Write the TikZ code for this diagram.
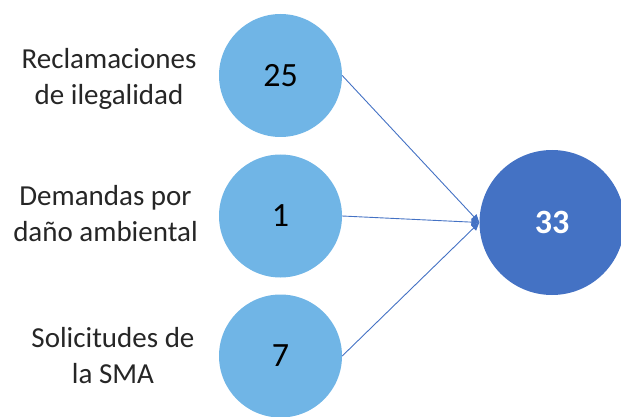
\documentclass[tikz,border=0pt]{standalone}
\usepackage{fontspec}
\setmainfont{Carlito}
\usetikzlibrary{arrows.meta}
\definecolor{lightblue}{RGB}{112,181,230}
\definecolor{darkblue}{RGB}{68,114,196}
\begin{document}
\begin{tikzpicture}[x=1pt,y=-1pt,
  smallcirc/.style={circle,fill=lightblue,draw=none,inner sep=0pt,minimum size=123pt,
    font=\fontsize{34}{40}\selectfont,text=black},
  bigcirc/.style={circle,fill=darkblue,draw=none,inner sep=0pt,minimum size=145pt,
    font=\fontsize{34}{40}\selectfont\bfseries,text=white},
  lbl/.style={align=center,inner sep=0pt,font=\fontsize{29}{36}\selectfont,text=black!85},
  conn/.style={draw=darkblue,line width=0.9pt,-{Triangle[length=8pt,width=7pt]}}]
\useasboundingbox (0,0) rectangle (621,417);
\node[smallcirc] (c1) at (280.5,75.5) {25};
\node[smallcirc] (c2) at (280.5,216) {1};
\node[smallcirc] (c3) at (280.5,356) {7};
\node[bigcirc] (big) at (552,222.5) {33};
\node[lbl] (l1) at (109,79) {Reclamaciones\\de ilegalidad};
\node[lbl] (l2) at (105.5,214) {Demandas por\\daño ambiental};
\node[lbl] (l3) at (113,355.5) {Solicitudes de\\la SMA};
\draw[conn] (c1.east) -- (big.west);
\draw[conn] (c2.east) -- (big.west);
\draw[conn] (c3.east) -- (big.west);
\end{tikzpicture}
\end{document}
